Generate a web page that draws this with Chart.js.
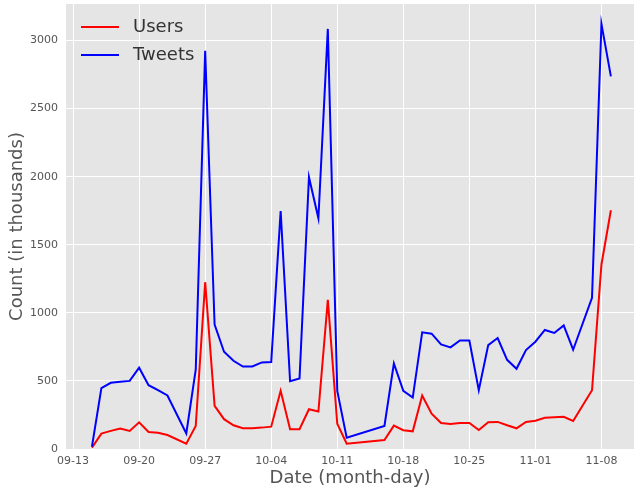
<!DOCTYPE html>
<html>
<head>
<meta charset="utf-8">
<script src="https://cdn.jsdelivr.net/npm/chart.js@4/dist/chart.umd.min.js"></script>
<style>
  html, body { margin: 0; padding: 0; background: #fff; }
  #chartContainer { width: 634px; height: 494px; }
</style>
</head>
<body>
<div id="chartContainer"><canvas id="chartCount"></canvas></div>
<script>
/* 数据 (单位: 千) */
const dates = ['09-15', '09-16', '09-17', '09-18', '09-19', '09-20', '09-21', '09-22', '09-23', '09-25',
  '09-26', '09-27', '09-28', '09-29', '09-30', '10-01', '10-02', '10-03', '10-04', '10-05', '10-06',
  '10-07', '10-08', '10-09', '10-10', '10-11', '10-12', '10-16', '10-17', '10-18', '10-19', '10-20',
  '10-21', '10-22', '10-23', '10-24', '10-25', '10-26', '10-27', '10-28', '10-29', '10-30', '10-31',
  '11-01', '11-02', '11-03', '11-04', '11-05', '11-07', '11-08', '11-09'];
const users = [10, 113, 133, 150, 133, 196, 125, 120, 103, 39,
  169, 1225, 317, 219, 174, 152, 152, 157, 164, 427, 145,
  145, 292, 275, 1095, 186, 39, 66, 172, 138, 130, 393,
  260, 191, 184, 191, 191, 140, 197, 199, 174, 152, 199,
  208, 230, 233, 236, 206, 432, 1355, 1753];
const tweets = [17, 447, 486, 493, 500, 597, 469, 432, 393, 115,
  582, 2925, 913, 714, 648, 606, 606, 636, 638, 1747, 498,
  518, 1996, 1694, 3085, 427, 83, 169, 628, 427, 378, 857,
  847, 768, 746, 797, 797, 432, 763, 815, 655, 589, 727,
  788, 874, 852, 908, 729, 1110, 3122, 2737];
const xTickLabels = ['09-13', '09-20', '09-27', '10-04', '10-11', '10-18', '10-25', '11-01', '11-08'];
const yTicks = [0, 500, 1000, 1500, 2000, 2500, 3000];

const baseDay = Date.UTC(2017, 8, 13);
function toDay(s) {
  const p = s.split('-');
  return (Date.UTC(2017, parseInt(p[0]) - 1, parseInt(p[1])) - baseDay) / 86400000;
}
function toLabel(v) {
  const d = new Date(baseDay + v * 86400000);
  return ('0' + (d.getUTCMonth() + 1)).slice(-2) + '-' + ('0' + d.getUTCDate()).slice(-2);
}

const fontName = '"DejaVu Sans", sans-serif';

/* 背景 + 图例 */
const ggplotBg = {
  id: 'ggplotBg',
  beforeDraw(chart) {
    const a = chart.chartArea;
    const ctx = chart.ctx;
    ctx.save();
    ctx.fillStyle = '#e5e5e5';
    ctx.fillRect(a.left, a.top, a.right - a.left, a.bottom - a.top);
    ctx.restore();
  },
  afterDraw(chart) {
    const a = chart.chartArea;
    const ctx = chart.ctx;
    ctx.save();
    ctx.font = '18px ' + fontName;
    ctx.textBaseline = 'middle';
    chart.data.datasets.forEach(function (ds, i) {
      const y = a.top + 23 + i * 28;
      ctx.strokeStyle = ds.borderColor;
      ctx.lineWidth = 2;
      ctx.beginPath();
      ctx.moveTo(a.left + 15, y);
      ctx.lineTo(a.left + 53, y);
      ctx.stroke();
      ctx.fillStyle = '#333';
      ctx.fillText(ds.label, a.left + 67, y);
    });
    ctx.restore();
  },
};

const chart = new Chart(document.getElementById('chartCount'), {
  type: 'line',
  data: {
    datasets: [
      {
        label: 'Users',
        data: dates.map((d, i) => ({ x: toDay(d), y: users[i] })),
        borderColor: '#ff0000',
        borderWidth: 2,
        pointRadius: 0,
        tension: 0,
        order: 2,
      },
      {
        label: 'Tweets',
        data: dates.map((d, i) => ({ x: toDay(d), y: tweets[i] })),
        borderColor: '#0000ff',
        borderWidth: 2,
        pointRadius: 0,
        tension: 0,
        order: 1,
      },
    ],
  },
  options: {
    responsive: true,
    maintainAspectRatio: false,
    animation: false,
    layout: { padding: { top: 4, right: 0, left: 0, bottom: 0 } },
    plugins: {
      legend: { display: false },
      tooltip: { enabled: false },
    },
    scales: {
      x: {
        type: 'linear',
        min: -0.75,
        max: 59.45,
        afterFit: function (scale) {
          scale.height = 45;
          scale.paddingLeft = 0;
          scale.paddingRight = 0;
        },
        afterBuildTicks: function (scale) {
          scale.ticks = xTickLabels.map(t => ({ value: toDay(t) }));
        },
        grid: { color: '#ffffff', lineWidth: 1, drawTicks: false },
        border: { display: false },
        ticks: {
          color: '#555',
          font: { family: fontName, size: 11 },
          padding: 6,
          maxRotation: 0,
          callback: function (v) { return toLabel(v); },
        },
        title: {
          display: true,
          text: 'Date (month-day)',
          color: '#555',
          font: { family: fontName, size: 18 },
          padding: { top: 0, bottom: 5 },
        },
      },
      y: {
        min: 0,
        max: 3268,
        afterFit: function (scale) {
          scale.width = 66;
          scale.paddingTop = 0;
          scale.paddingBottom = 0;
        },
        afterBuildTicks: function (scale) {
          scale.ticks = yTicks.map(v => ({ value: v }));
        },
        grid: { color: '#ffffff', lineWidth: 1, drawTicks: false },
        border: { display: false },
        ticks: {
          color: '#555',
          font: { family: fontName, size: 11 },
          padding: 8,
          callback: function (v) { return String(v); },
        },
        title: {
          display: true,
          text: 'Count (in thousands)',
          color: '#555',
          font: { family: fontName, size: 18 },
          padding: { top: 7, bottom: 0 },
        },
      },
    },
  },
  plugins: [ggplotBg],
});
</script>
</body>
</html>
